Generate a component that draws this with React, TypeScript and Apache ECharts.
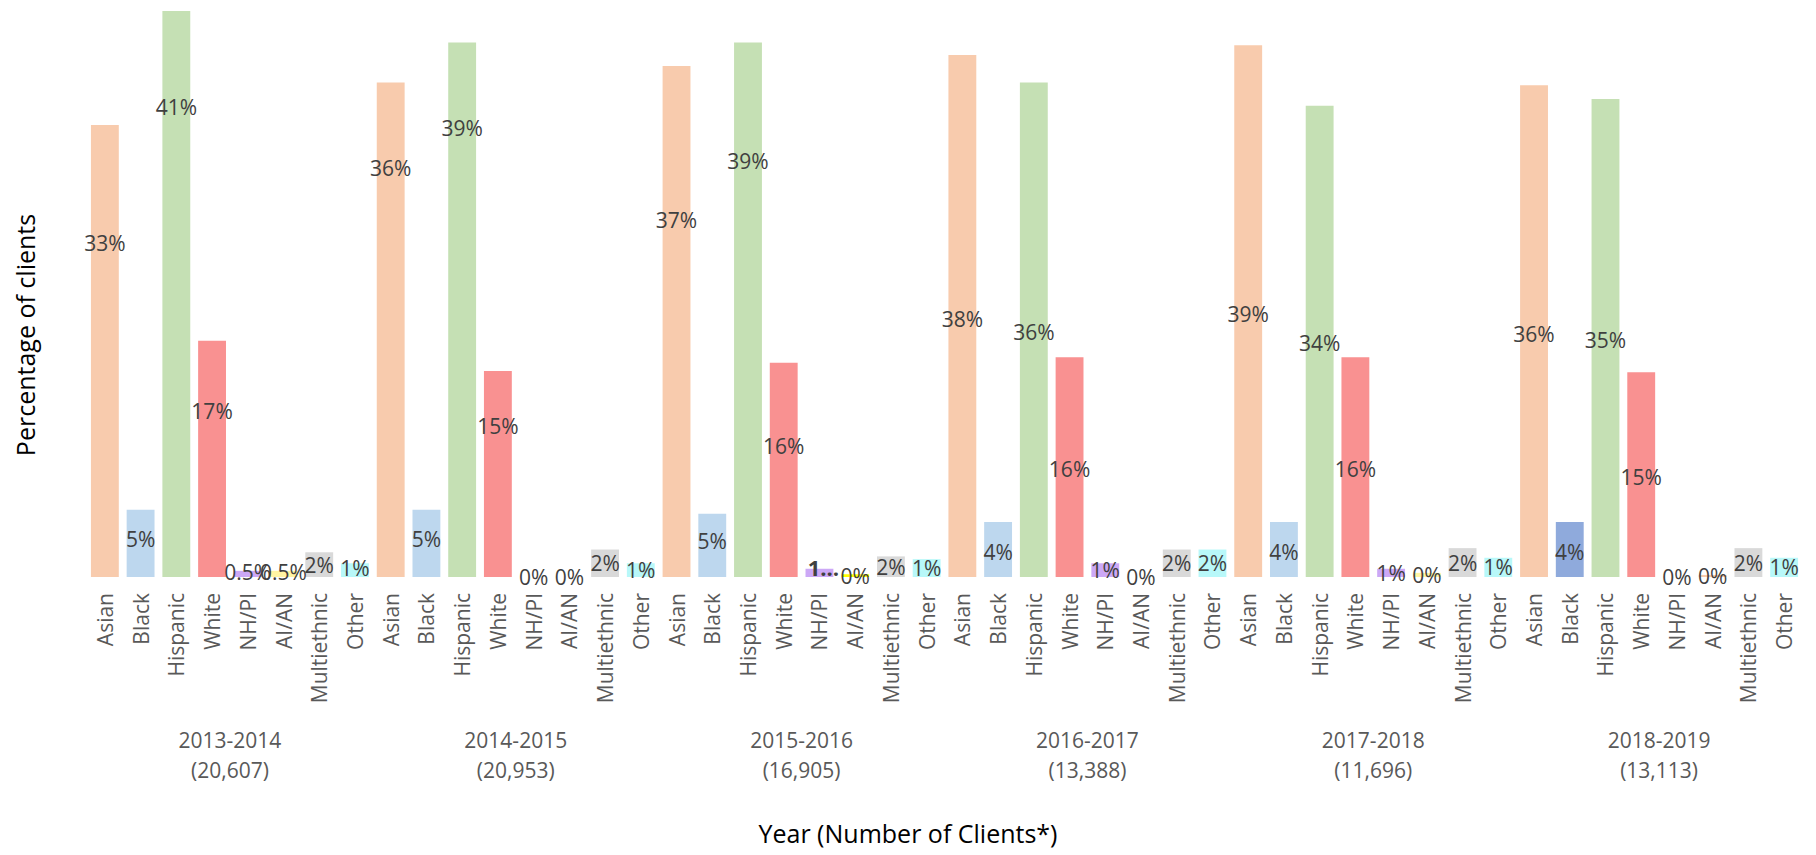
import React, { useEffect, useRef } from "react";
import * as echarts from "echarts";

// ---- data ----
const years = ["2013-2014", "2014-2015", "2015-2016", "2016-2017", "2017-2018", "2018-2019"];
const clientCounts = ["20,607", "20,953", "16,905", "13,388", "11,696", "13,113"];
const races = ["Asian", "Black", "Hispanic", "White", "NH/PI", "AI/AN", "Multiethnic", "Other"];

const pct2013 = [32.9, 4.9, 41.2, 17.2, 0.45, 0.45, 1.8, 1.0];
const pct2014 = [36.0, 4.9, 38.9, 15.0, 0, 0, 2.0, 1.0];
const pct2015 = [37.2, 4.6, 38.9, 15.6, 0.6, 0.2, 1.5, 1.3];
const pct2016 = [38.0, 4.0, 36.0, 16.0, 1.0, 0, 2.0, 2.0];
const pct2017 = [38.7, 4.0, 34.3, 16.0, 0.6, 0.3, 2.1, 1.4];
const pct2018 = [35.8, 4.0, 34.8, 14.9, 0, 0.15, 2.1, 1.4];

const lbl2013 = ["33%", "5%", "41%", "17%", "0.5%", "0.5%", "2%", "1%"];
const lbl2014 = ["36%", "5%", "39%", "15%", "0%", "0%", "2%", "1%"];
const lbl2015 = ["37%", "5%", "39%", "16%", "1…", "0%", "2%", "1%"];
const lbl2016 = ["38%", "4%", "36%", "16%", "1%", "0%", "2%", "2%"];
const lbl2017 = ["39%", "4%", "34%", "16%", "1%", "0%", "2%", "1%"];
const lbl2018 = ["36%", "4%", "35%", "15%", "0%", "0%", "2%", "1%"];

const allPct = [pct2013, pct2014, pct2015, pct2016, pct2017, pct2018];
const allLbl = [lbl2013, lbl2014, lbl2015, lbl2016, lbl2017, lbl2018];

// ---- styles ----
const raceColors = ["#F8CBAD", "#BDD7EE", "#C5E0B4", "#F99191", "#CCA8F6", "#FFF4A3", "#D9D9D9", "#B8F8F9"];
const colorOverrides: Record<string, string> = {
  "2-5": "#FFFF00",
  "5-1": "#8FAADC",
  "5-5": "#F8CBAD",
};
// vertical label shifts (px) reproducing the original manual label placement
const labelShifts = [
  [-108, -4, -187, -48, -2, -2, 0, -2],
  [-162, -4, -182, -48, 0, 0, 0, 0],
  [-101, -4, -149, -24, -6, 0, 0, 0],
  [3, 2, 2, 2, 0, 0, 0, 0],
  [3, 2, 2, 2, 0, 0, 0, 0],
  [3, 2, 2, 2, 0, 0, 0, 0],
];

const FONT = "'Open Sans', 'Noto Sans', sans-serif";

export default function App() {
  const ref = useRef<HTMLDivElement>(null);
  useEffect(() => {
    if (!ref.current) return;
    const chart = echarts.init(ref.current, undefined, { renderer: "svg" });

    const cats: string[] = [];
    const data: any[] = [];
    allPct.forEach((vals, yi) => {
      vals.forEach((v, ri) => {
        cats.push(races[ri]);
        const key = `${yi}-${ri}`;
        const isTrunc = allLbl[yi][ri] === "1…";
        data.push({
          value: v,
          itemStyle: { color: colorOverrides[key] || raceColors[ri] },
          label: {
            formatter: allLbl[yi][ri],
            offset: [isTrunc ? 4 : 0, labelShifts[yi][ri]],
            fontWeight: isTrunc ? "bold" : "normal",
            fontSize: isTrunc ? 22 : 21,
          },
        });
      });
    });

    const groupLabels = years.map((y, i) => `${y}\n(${clientCounts[i]})`);

    chart.setOption({
      animation: false,
      grid: { left: 87, right: 14, top: 0, bottom: 278, containLabel: false },
      xAxis: [
        {
          type: "category",
          data: cats,
          axisLine: { show: false },
          axisTick: { show: false },
          axisLabel: {
            interval: 0,
            rotate: 90,
            margin: 16,
            fontSize: 21,
            color: "#595959",
            fontFamily: FONT,
          },
        },
        {
          type: "category",
          data: groupLabels,
          position: "bottom",
          offset: 140,
          axisLine: { show: false },
          axisTick: { show: false },
          axisLabel: {
            interval: 0,
            margin: 8,
            fontSize: 21,
            lineHeight: 30,
            color: "#595959",
            fontFamily: FONT,
          },
        },
      ],
      yAxis: {
        type: "value",
        min: 0,
        max: 42,
        show: false,
        splitLine: { show: false },
      },
      series: [
        {
          type: "bar",
          xAxisIndex: 0,
          data,
          barCategoryGap: "22%",
          label: {
            show: true,
            position: "inside",
            color: "#404040",
            fontFamily: FONT,
            fontSize: 21,
          },
        },
      ],
      graphic: [
        {
          type: "text",
          left: "center",
          top: 820,
          style: {
            text: "Year (Number of Clients*)",
            font: `25px ${FONT}`,
            fill: "#000000",
          },
        },
        {
          type: "text",
          x: 25,
          y: 335,
          rotation: Math.PI / 2,
          style: {
            text: "Percentage of clients",
            font: `25px ${FONT}`,
            fill: "#000000",
            align: "center",
            verticalAlign: "middle",
          },
        },
      ],
    });
    return () => chart.dispose();
  }, []);

  return (
    <div
      ref={ref}
      style={{ position: "fixed", left: 0, top: 0, width: 1816, height: 855, background: "#ffffff" }}
    />
  );
}
